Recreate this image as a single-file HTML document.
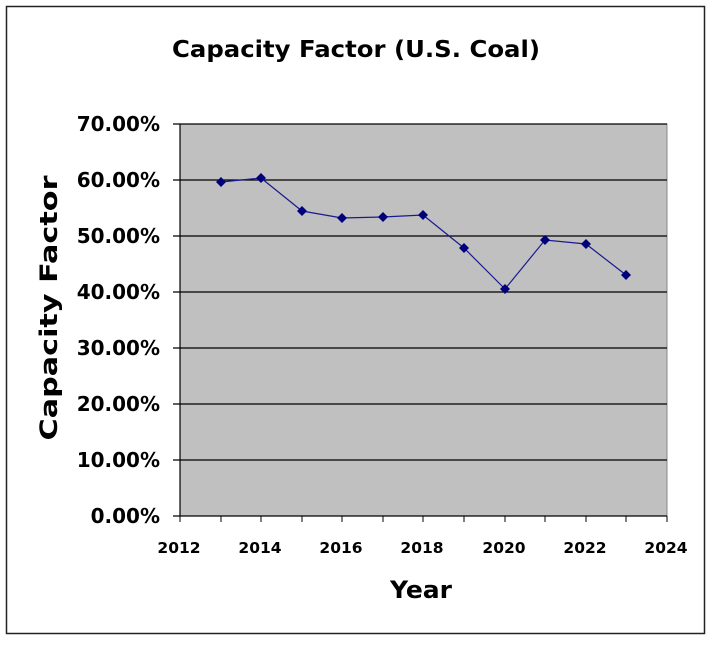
<!DOCTYPE html>
<html><head><style>body{margin:0;background:#fff}</style></head><body>
<svg width="720" height="642" xmlns="http://www.w3.org/2000/svg" font-family="DejaVu Sans, Liberation Sans, sans-serif">
<rect x="0" y="0" width="720" height="642" fill="#fff"/>
<rect x="6.5" y="6.5" width="698" height="627" fill="#fff" stroke="#222" stroke-width="1.5"/>
<text x="356" y="57" text-anchor="middle" font-size="23" font-weight="bold" textLength="368" lengthAdjust="spacingAndGlyphs">Capacity Factor (U.S. Coal)</text>
<rect x="180" y="124" width="487" height="392" fill="#c0c0c0" stroke="#888" stroke-width="1"/>
<g stroke="#000" stroke-width="1.2">
<line x1="173" y1="124" x2="667" y2="124"/>
<line x1="173" y1="180" x2="667" y2="180"/>
<line x1="173" y1="236" x2="667" y2="236"/>
<line x1="173" y1="292" x2="667" y2="292"/>
<line x1="173" y1="348" x2="667" y2="348"/>
<line x1="173" y1="404" x2="667" y2="404"/>
<line x1="173" y1="460" x2="667" y2="460"/>
<line x1="173" y1="516" x2="667" y2="516"/>
<line x1="180" y1="124" x2="180" y2="516"/>
</g>
<g stroke="#000" stroke-width="1">
<line x1="180" y1="516" x2="180" y2="522"/><line x1="221" y1="516" x2="221" y2="522"/>
<line x1="261" y1="516" x2="261" y2="522"/><line x1="302" y1="516" x2="302" y2="522"/>
<line x1="342" y1="516" x2="342" y2="522"/><line x1="383" y1="516" x2="383" y2="522"/>
<line x1="423" y1="516" x2="423" y2="522"/><line x1="464" y1="516" x2="464" y2="522"/>
<line x1="505" y1="516" x2="505" y2="522"/><line x1="545" y1="516" x2="545" y2="522"/>
<line x1="586" y1="516" x2="586" y2="522"/><line x1="626" y1="516" x2="626" y2="522"/>
<line x1="667" y1="516" x2="667" y2="522"/>
</g>
<g font-size="20" font-weight="bold" text-anchor="end">
<text x="160" y="131">70.00%</text><text x="160" y="187">60.00%</text>
<text x="160" y="243">50.00%</text><text x="160" y="299">40.00%</text>
<text x="160" y="355">30.00%</text><text x="160" y="411">20.00%</text>
<text x="160" y="467">10.00%</text><text x="160" y="523">0.00%</text>
</g>
<g font-size="15.5" font-weight="bold" text-anchor="middle">
<text x="179" y="553">2012</text><text x="260" y="553">2014</text><text x="341" y="553">2016</text>
<text x="422" y="553">2018</text><text x="504" y="553">2020</text><text x="585" y="553">2022</text>
<text x="666" y="553">2024</text>
</g>
<text x="421" y="598" text-anchor="middle" font-size="24" font-weight="bold" textLength="62" lengthAdjust="spacingAndGlyphs">Year</text>
<text transform="translate(57,308) rotate(-90)" text-anchor="middle" font-size="24" font-weight="bold" textLength="265" lengthAdjust="spacingAndGlyphs">Capacity Factor</text>
<polyline fill="none" stroke="#1a1a90" stroke-width="1.2" points="221,182 261,178 302,211 342,218 383,217 423,215 464,248 505,289 545,240 586,244 626,275"/>
<g fill="#00007a">
<path d="M221,177l5,5l-5,5l-5,-5z"/><path d="M261,173l5,5l-5,5l-5,-5z"/>
<path d="M302,206l5,5l-5,5l-5,-5z"/><path d="M342,213l5,5l-5,5l-5,-5z"/>
<path d="M383,212l5,5l-5,5l-5,-5z"/><path d="M423,210l5,5l-5,5l-5,-5z"/>
<path d="M464,243l5,5l-5,5l-5,-5z"/><path d="M505,284l5,5l-5,5l-5,-5z"/>
<path d="M545,235l5,5l-5,5l-5,-5z"/><path d="M586,239l5,5l-5,5l-5,-5z"/>
<path d="M626,270l5,5l-5,5l-5,-5z"/>
</g>
</svg>
</body></html>
